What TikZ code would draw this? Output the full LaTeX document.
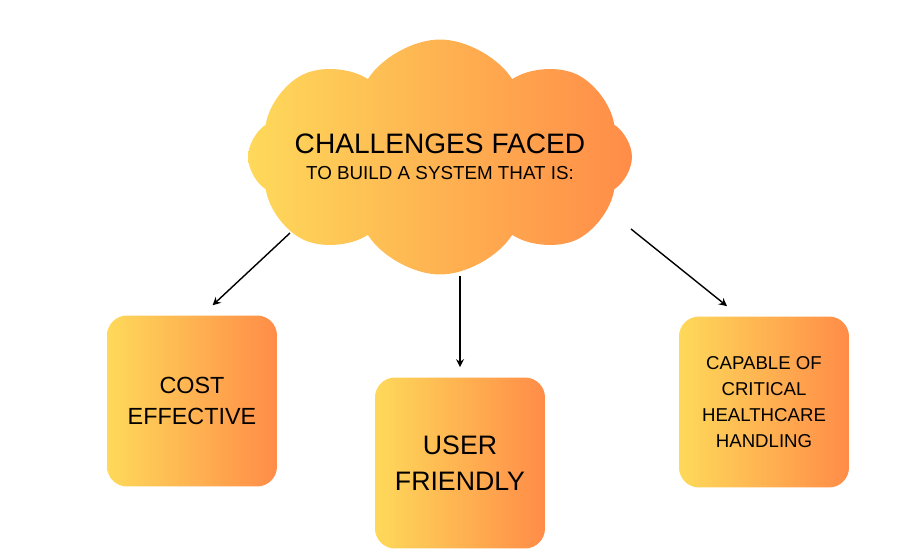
\documentclass[tikz,border=0pt]{standalone}
\usepackage{fontspec}
\setmainfont{Liberation Sans}
\usetikzlibrary{shapes.symbols,arrows.meta}
\definecolor{sunny}{RGB}{254,217,90}
\definecolor{tangerine}{RGB}{255,140,72}

\begin{document}
\begin{tikzpicture}[x=0.02cm, y=-0.02cm, >={Stealth[length=1.6mm,width=1.6mm]},
  idea/.style={cloud, cloud puffs=8, cloud puff arc=115, cloud ignores aspect, minimum width=7.68cm, minimum height=4.7cm, inner sep=0pt, left color=sunny, right color=tangerine},
  goal/.style={rectangle, rounded corners=4mm, minimum width=3.4cm, minimum height=3.42cm, align=center, left color=sunny, right color=tangerine},
  link/.style={->, thick, shorten >=2.9mm}]
  \useasboundingbox (0,0) rectangle (922,560);
  % main idea
  \node[idea] (cloud) at (440,157) {};
  \node[align=center] (title) at (440,157) {{\fontsize{16}{18}\selectfont CHALLENGES FACED}\\[3pt]
    {\fontsize{10.7}{12}\selectfont TO BUILD A SYSTEM THAT IS:}};
  % the three goals
  \node[goal, font=\fontsize{13.3}{18}\selectfont] (cost) at (192,401) {COST\\EFFECTIVE};
  \node[goal, font=\fontsize{15.2}{20.5}\selectfont] (friendly) at (460,463) {USER\\FRIENDLY};
  \node[goal, font=\fontsize{10.6}{14.7}\selectfont] (capable) at (764,402) {CAPABLE OF\\CRITICAL\\HEALTHCARE\\HANDLING};
  \coordinate (c1) at (290,233);
  \coordinate (c2) at (460,276);
  \coordinate (c3) at (631,229);
  \draw[link] (c1) -- ([xshift=2mm]cost.north);
  \draw[link, shorten >=2mm] (c2) -- (friendly.north);
  \draw[link, shorten >=3.2mm] (c3) -- ([xshift=-4.9mm]capable.north);
\end{tikzpicture}
\end{document}
